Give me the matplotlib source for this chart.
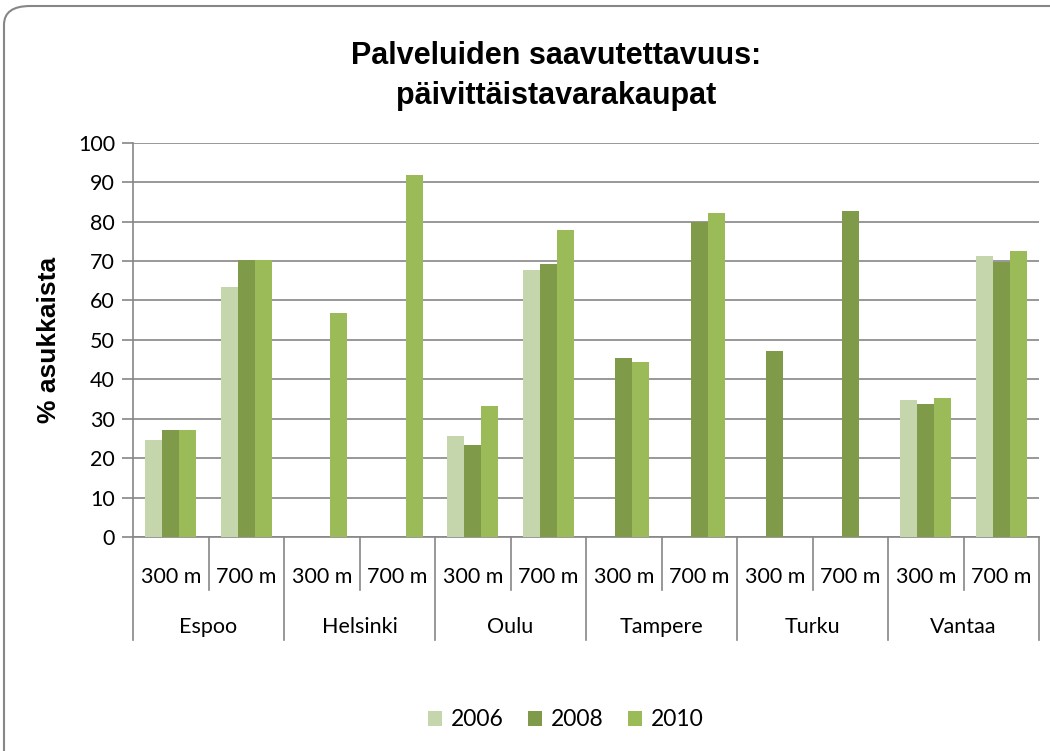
import matplotlib.pyplot as plt
from matplotlib.patches import FancyBboxPatch
import numpy as np

# data
cities = ['Espoo', 'Helsinki', 'Oulu', 'Tampere', 'Turku', 'Vantaa']
distances = ['300 m', '700 m']
years = ['2006', '2008', '2010']
v2006 = [24.6, 63.5, 0, 0, 25.6, 67.7, 0, 0, 0, 0, 34.7, 71.3]
v2008 = [27.1, 70.2, 0, 0, 23.3, 69.2, 45.4, 79.9, 47.2, 82.7, 33.7, 69.8]
v2010 = [27.1, 70.2, 56.9, 91.9, 33.2, 77.9, 44.4, 82.2, 0, 0, 35.2, 72.6]
colors = ['#C6D6AC', '#7F9A48', '#9BBB59']

tick_font = ['Lato', 'DejaVu Sans']
grey = '#868686'

fig = plt.figure(figsize=(10.5, 7.51), dpi=100)

# rounded chart frame
frame = FancyBboxPatch((4 / 1050, -0.05), 1.2, 1.05 - 6 / 751,
                       boxstyle='round,pad=0,rounding_size=0.025',
                       transform=fig.transFigure, fill=False,
                       edgecolor=grey, linewidth=1.5, zorder=0)
fig.patches.append(frame)

ax = fig.add_axes([133 / 1050, 1 - 537 / 751, (1039 - 133) / 1050, (537 - 142.7) / 751])

n = len(cities) * len(distances)
x = np.arange(n)
w = 0.225
for i, (vals, c, lab) in enumerate(zip([v2006, v2008, v2010], colors, years)):
    ax.bar(x + (i - 1) * w, vals, w, color=c, label=lab, zorder=3)

ax.set_xlim(-0.5, n - 0.5)
ax.set_ylim(0, 100)
ax.set_yticks(range(0, 101, 10))
ax.yaxis.grid(True, color=grey, linewidth=1.2, zorder=0)
ax.set_axisbelow(True)
for s in ['top', 'right']:
    ax.spines[s].set_visible(False)
for s in ['left', 'bottom']:
    ax.spines[s].set_color(grey)
    ax.spines[s].set_linewidth(1.2)
ax.tick_params(axis='y', length=8, color=grey, width=1.2, labelsize=15.5, pad=5)
ax.set_xticks([])
for t in ax.get_yticklabels():
    t.set_family(tick_font)

# two-level category axis
for k in range(n + 1):
    depth = 0.261 if k % 2 == 0 else 0.134
    ax.plot([k - 0.5, k - 0.5], [0, -depth], color=grey, linewidth=1.2,
            transform=ax.get_xaxis_transform(), clip_on=False)
for k in range(n):
    ax.text(k, -0.101, distances[k % 2], ha='center', va='center',
            fontsize=15.5, family=tick_font, transform=ax.get_xaxis_transform())
for j, city in enumerate(cities):
    ax.text(2 * j + 0.5, -0.228, city, ha='center', va='center',
            fontsize=15.5, family=tick_font, transform=ax.get_xaxis_transform())

ax.set_ylabel('% asukkaista', fontsize=19, fontweight='bold',
              family='Liberation Sans', labelpad=12)

fig.text(0.53, 1 - 76 / 751, 'Palveluiden saavutettavuus:\npäivittäistavarakaupat',
         ha='center', va='center', fontsize=22, fontweight='bold',
         family='Liberation Sans', linespacing=1.45)

leg = fig.legend(loc='center', bbox_to_anchor=(0.539, 1 - 720 / 751), ncol=3,
                 frameon=False, handlelength=0.6, handleheight=0.6,
                 handletextpad=0.4, columnspacing=1.05,
                 prop={'family': tick_font, 'size': 16.5})

fig.savefig('out.png', dpi=100, facecolor='white')
